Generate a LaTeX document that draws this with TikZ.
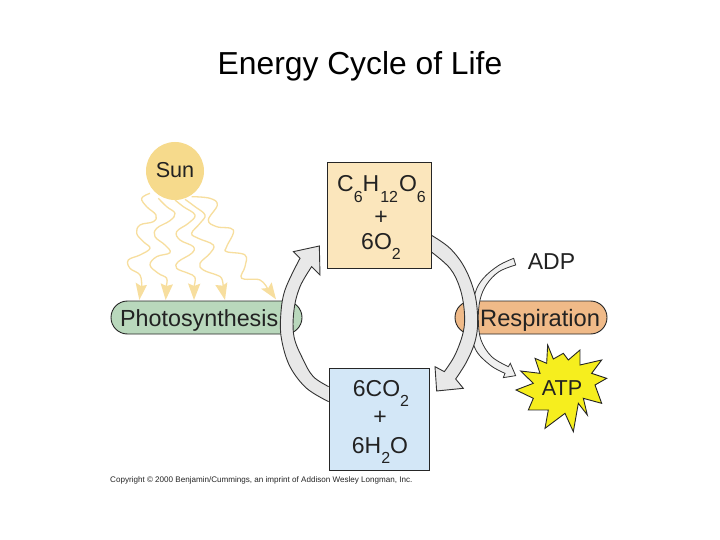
\documentclass[tikz,border=0pt]{standalone}
\usepackage{fontspec}
\setmainfont{Liberation Sans}
\definecolor{txt}{HTML}{222222}
\definecolor{sunc}{HTML}{F6DA8C}
\definecolor{rayc}{HTML}{F7DE9E}
\definecolor{greenc}{HTML}{B9D8BC}
\definecolor{orangec}{HTML}{F0BA88}
\definecolor{topc}{HTML}{FBE6BC}
\definecolor{botc}{HTML}{D3E7F7}
\definecolor{arcc}{HTML}{E8E8E8}
\definecolor{thinc}{HTML}{F0F0F0}
\definecolor{starc}{HTML}{F6EE1E}
\newcommand{\fsz}[1]{\fontsize{#1}{#1}\selectfont}
\newcommand{\sbs}[1]{\raisebox{-.45em}{\fsz{16}#1}}
\tikzset{
  pill/.style={draw=black!85,line width=.9pt,rounded corners=16.5pt,minimum height=33pt,inner sep=0pt},
  chembox/.style={draw=black!85,line width=.9pt,inner sep=0pt},
  lab/.style={text=txt,inner sep=0pt,anchor=base,font=\fsz{23}},
  ray/.style={draw=rayc,line width=1.3pt},
  rayhead/.style={fill=rayc,draw=none},
  band/.style={fill=arcc,draw=black!80,line width=.9pt,line join=miter},
  thinband/.style={fill=thinc,draw=black!80,line width=.8pt},
}
\begin{document}
\begin{tikzpicture}[x=1pt,y=-1pt]
\useasboundingbox (0,0) rectangle (720,540);
\fill[white] (0,0) rectangle (720,540);
\node[text=black,inner sep=0pt,anchor=base,font=\fsz{31.8}] (title) at (360,75) {Energy Cycle of Life};

% pills
\node[pill,fill=greenc,minimum width=191pt] (photo) at (206.5,317.5) {};
\node[pill,fill=orangec,minimum width=152pt] (resp) at (531,317.5) {};

% sun
\node[circle,fill=sunc,minimum size=58pt,inner sep=0pt] (sun) at (175,171) {};

% rays
\begin{scope}[shift={(120,190)},x=.3333pt,y=-.3333pt]
\draw[ray] plot[smooth,tension=.65] coordinates {(90,10)(65,25)(80,50)(108,75)(100,95)(60,105)(50,130)(70,155)(90,175)(60,195)(25,210)(30,235)(60,255)(65,290)};
\draw[ray] plot[smooth,tension=.65] coordinates {(115,25)(140,50)(165,70)(150,92)(110,115)(105,140)(135,165)(150,188)(110,200)(90,225)(115,250)(140,265)(138,290)};
\draw[ray] plot[smooth,tension=.65] coordinates {(165,30)(190,50)(225,75)(205,100)(170,125)(180,150)(220,170)(215,190)(175,215)(170,235)(205,250)(225,262)(222,290)};
\draw[ray] plot[smooth,tension=.65] coordinates {(195,28)(225,50)(255,75)(240,100)(215,130)(235,145)(280,165)(270,190)(240,220)(250,240)(290,255)(305,265)(310,290)};
\draw[ray] plot[smooth,tension=.65] coordinates {(215,20)(270,25)(292,45)(265,90)(290,110)(340,120)(320,170)(320,185)(375,195)(375,230)(365,265)(420,270)(445,300)};
\fill[rayhead] (58,330)--(47,278)--(63,288)--(81,285)--cycle;
\fill[rayhead] (137,330)--(122,280)--(139,288)--(159,283)--cycle;
\fill[rayhead] (222,330)--(204,280)--(222,288)--(241,281)--cycle;
\fill[rayhead] (315,330)--(286,285)--(308,287)--(322,277)--cycle;
\fill[rayhead] (468,328)--(423,296)--(445,294)--(455,277)--cycle;
\end{scope}

% thin ADP to ATP arrow
\begin{scope}[shift={(425,225)},x=.3333pt,y=-.3333pt]
\draw[thinband] (272,120)
  -- plot[smooth,tension=.6] coordinates {(272,120)(222,140)(185,178)(165,225)(160,285)(168,345)(200,395)(250,425)}
  -- (256,415) -- (272,452) -- (235,458) -- (240,445)
  -- plot[smooth,tension=.6] coordinates {(240,445)(195,420)(150,370)(135,285)(150,205)(175,160)(220,122)(266,100)}
  -- cycle;
\end{scope}

% big arcs
\begin{scope}[shift={(425,225)},x=.3333pt,y=-.3333pt]
\draw[band] (18,30)
  -- plot[smooth,tension=.6] coordinates {(18,30)(75,70)(120,130)(150,210)(158,290)(150,350)(125,410)(92,462)}
  -- (115,490) -- (35,498) -- (30,425) -- (58,440)
  -- plot[smooth,tension=.6] coordinates {(58,440)(90,390)(115,320)(118,260)(105,190)(75,130)(18,80)};
\end{scope}
\begin{scope}[shift={(270,150)},x=.3333pt,y=-.3333pt]
\draw[band] (176,755)
  -- plot[smooth,tension=.6] coordinates {(176,755)(110,715)(60,650)(35,570)(32,500)(45,420)(90,325)}
  -- (70,305) -- (148,288) -- (150,375) -- (125,350)
  -- plot[smooth,tension=.6] coordinates {(125,350)(90,410)(72,480)(72,560)(100,630)(130,680)(176,710)};
\end{scope}

% chem boxes
\node[chembox,fill=topc,minimum width=104pt,minimum height=106pt] (top) at (379,215) {};
\node[chembox,fill=botc,minimum width=100pt,minimum height=102pt] (bot) at (379,419) {};

% star
\begin{scope}[shift={(500,335)},x=.3333pt,y=-.3333pt]
\draw[fill=starc,draw=black!85,line width=.9pt,line join=miter]
 (143,30)--(160,72)--(190,55)--(205,75)--(240,45)--(240,90)--(305,75)--(275,115)--(320,130)--(285,150)--(305,205)--(250,190)--(262,240)--(235,205)--(220,290)--(195,235)--(135,280)--(145,225)--(85,225)--(100,190)--(48,165)--(100,145)--(62,108)--(120,115)--(105,70)--(140,85)--cycle;
\end{scope}

% labels
\node[lab,font=\fsz{21.6}] (sunl) at (175,178) {Sun};
\node[lab,anchor=base west,font=\fsz{23.3}] (photol) at (120,326) {Photosynthesis};
\node[lab,anchor=base west,font=\fsz{23.7}] (respl) at (480,326) {Respiration};
\node[lab] (adp) at (551.5,269) {ADP};
\node[lab,font=\fsz{21.6}] (atp) at (562,395) {ATP};
\node[lab] (t1) at (381.5,192) {C\sbs{6}H\kern1pt\sbs{12}\kern1pt O\sbs{6}};
\node[lab] (t2) at (381,224.5) {+};
\node[lab] (t3) at (381,249) {6O\sbs{2}};
\node[lab] (b1) at (381,396) {6CO\sbs{2}};
\node[lab] (b2) at (380,424.5) {+};
\node[lab] (b3) at (380,453) {6H\sbs{2}O};
\node[anchor=base west,inner sep=0pt,text=black!85,font=\fsz{8.08}] (copy) at (110,482) {Copyright © 2000 Benjamin/Cummings, an imprint of Addison Wesley Longman, Inc.};
\end{tikzpicture}
\end{document}
